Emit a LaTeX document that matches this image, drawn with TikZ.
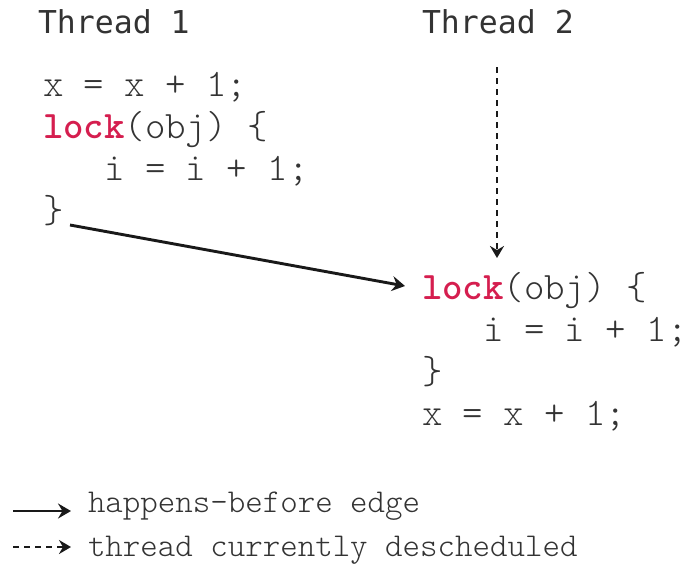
\documentclass[tikz,border=0pt]{standalone}
\usepackage{fontspec}
\newfontfamily\headfont{DejaVu Sans Mono}
\usetikzlibrary{arrows.meta,calc}
\definecolor{ink}{HTML}{333333}
\definecolor{kw}{HTML}{D51E4F}
\newcommand{\kwlock}{\textcolor{kw}{\fontseries{b}\selectfont lock}}
\begin{document}
\begin{tikzpicture}[x=1pt,y=-1pt,
  every node/.style={inner sep=0pt,outer sep=0pt,anchor=base west,text=ink},
  head/.style={font=\headfont\fontsize{31.5}{31.5}\selectfont},
  code/.style={font=\ttfamily\fontseries{l}\fontsize{38.9}{38.9}\selectfont},
  legendtext/.style={font=\ttfamily\fontseries{l}\fontsize{33.3}{33.3}\selectfont},
  hb/.style={draw=black!90,line width=2.9pt,-{Stealth[length=13pt,width=15pt,inset=4.5pt]}},
  desched/.style={draw=black!90,line width=2.7pt,dash pattern=on 6pt off 5pt,-{Stealth[length=12pt,width=14pt,inset=4pt]}}]
\useasboundingbox (0,0) rectangle (692,563);

% thread headers
\node[head] (t1) at (38,33) {Thread 1};
\node[head] (t2) at (422,33) {Thread 2};

% thread 1 code
\node[code] (a1) at (43,96)  {x = x + 1;};
\node[code] (a2) at (43,138) {\kwlock(obj) \{};
\node[code] (a3) at (43,180) {\ \ \ i = i + 1;};
\node[code] (a4) at (43,222) {\}};

% thread 2 code
\node[code] (b1) at (422,299) {\kwlock(obj) \{};
\node[code] (b2) at (422,341) {\ \ \ i = i + 1;};
\node[code] (b3) at (422,383) {\}};
\node[code] (b4) at (422,425) {x = x + 1;};

% release of the lock in thread 1 happens before the acquire in thread 2
\draw[hb] ($(a4.base west)+(27,3)$) -- ($(b1.base west)+(-17,-13)$);

% thread 2 waits while descheduled
\coordinate (t2wait) at (497,67);
\draw[desched] (t2wait) -- ($(b1.base west)+(75,-41)$);

% legend
\coordinate (l1a) at (13,511);
\coordinate (l1b) at (71,511);
\draw[hb] (l1a) -- (l1b);
\node[legendtext] (l1) at (88,512) {happens-before edge};
\coordinate (l2a) at (13,547);
\coordinate (l2b) at (71,547);
\draw[desched] (l2a) -- (l2b);
\node[legendtext] (l2) at (88,556) {thread currently descheduled};
\end{tikzpicture}
\end{document}
